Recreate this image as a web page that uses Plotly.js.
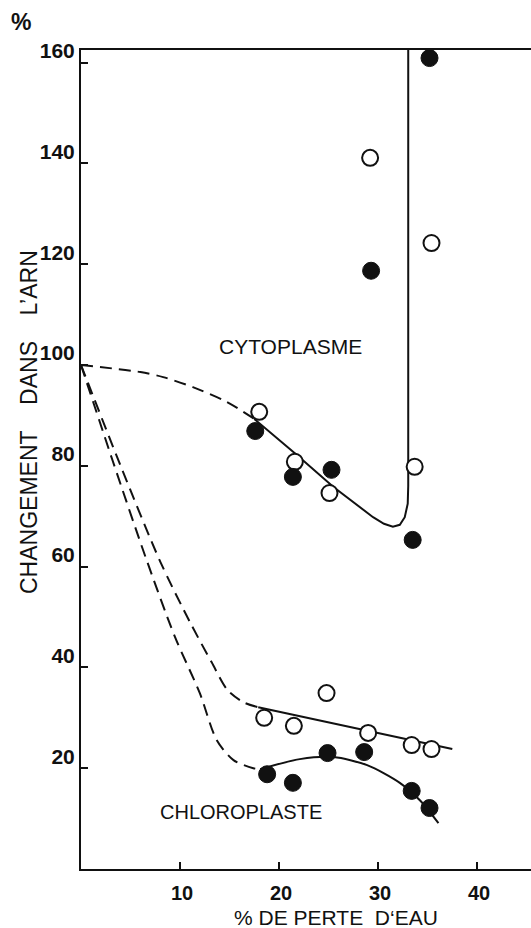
<!DOCTYPE html>
<html>
<head>
<meta charset="utf-8">
<script src="https://cdn.plot.ly/plotly-3.0.1.min.js"></script>
<style>html,body{margin:0;padding:0;background:#fff;}#chart{width:531px;height:928px;}</style>
</head>
<body>
<div id="chart"></div>
<script>
// Data points
const cytoOpenX = [18.0, 21.6, 25.1, 29.2, 33.7, 35.4];
const cytoOpenY = [90.7, 80.8, 74.6, 141.1, 79.8, 124.2];
const cytoFilledX = [17.6, 21.4, 25.3, 29.3, 33.5, 35.2];
const cytoFilledY = [86.9, 77.8, 79.2, 118.7, 65.3, 160.9];
const chloroOpenX = [18.5, 21.5, 24.8, 29.0, 33.4, 35.4];
const chloroOpenY = [30.0, 28.4, 34.9, 27.0, 24.6, 23.8];
const chloroFilledX = [18.8, 21.4, 24.9, 28.6, 33.4, 35.2];
const chloroFilledY = [18.8, 17.1, 23.0, 23.2, 15.5, 12.1];

// Hand-drawn curves
const cytoDashX = [0, 6.0, 8.3, 11.3, 14.7, 17.5];
const cytoDashY = [100, 98.6, 97.6, 95.6, 92.7, 89.3];
const cytoFitX = [17.5, 21.6, 25.5, 29.5, 30.6, 31.5, 32.2, 32.7, 33.0, 33.05, 33.05];
const cytoFitY = [89.3, 82.5, 75.8, 69.8, 68.5, 67.9, 68.3, 69.8, 72.5, 76, 163];
const chloroOpenDashX = [0, 4, 8, 11, 13.2, 14.8, 16.4, 17.9];
const chloroOpenDashY = [100, 80, 61, 49, 41, 35.5, 33.1, 32.1];
const chloroOpenFitX = [17.9, 37.5];
const chloroOpenFitY = [32.1, 23.8];
const chloroFilledDashX = [0, 3.2, 6.5, 9.5, 12.0, 13.7, 15.4, 17.4, 18.1];
const chloroFilledDashY = [100, 81, 62, 46, 34.9, 25.6, 21.6, 20.0, 19.8];
const chloroFilledFitX = [18.1, 22.1, 25.5, 28.9, 32.2, 34.3, 36.1];
const chloroFilledFitY = [19.8, 21.8, 22.2, 20.6, 17.1, 13.5, 9.1];

const xTicks = [10, 20, 30, 40];
const yTicks = [20, 40, 60, 80, 100, 120, 140, 160];

const ink = '#111';
const FONT = 'Liberation Sans, Arial, sans-serif';

function line(x, y, dash, shape) {
  return {x: x, y: y, type: 'scatter', mode: 'lines', hoverinfo: 'skip',
    line: {color: ink, width: 2, dash: dash || 'solid', shape: shape || 'linear', smoothing: 0.8},
    cliponaxis: false, showlegend: false};
}
function pts(x, y, filled) {
  return {x: x, y: y, type: 'scatter', mode: 'markers', cliponaxis: false, showlegend: false,
    marker: {size: filled ? 17 : 16, color: filled ? ink : '#fff', line: {color: ink, width: filled ? 1 : 2}, symbol: 'circle'}};
}

const traces = [
  line(cytoDashX, cytoDashY, '12px,7px', 'spline'),
  line(cytoFitX, cytoFitY, 'solid', 'linear'),
  line(chloroOpenDashX, chloroOpenDashY, '12px,7px', 'spline'),
  line(chloroOpenFitX, chloroOpenFitY, 'solid', 'linear'),
  line(chloroFilledDashX, chloroFilledDashY, '12px,7px', 'spline'),
  line(chloroFilledFitX, chloroFilledFitY, 'solid', 'spline'),
  pts(cytoOpenX, cytoOpenY, false),
  pts(cytoFilledX, cytoFilledY, true),
  pts(chloroOpenX, chloroOpenY, false),
  pts(chloroFilledX, chloroFilledY, true)
];

const nb = '\u00a0';
const W = 450, H = 819;
const layout = {
  width: 531, height: 928,
  margin: {l: 81, r: 0, t: 50, b: 59},
  paper_bgcolor: '#fff', plot_bgcolor: '#fff',
  font: {family: FONT, color: ink},
  showlegend: false,
  xaxis: {
    range: [0, 45.45], tickvals: xTicks, ticktext: xTicks.map(String),
    ticks: 'inside', ticklen: 7, tickwidth: 2, tickcolor: ink,
    showline: true, linewidth: 2, linecolor: ink, mirror: true,
    showgrid: false, zeroline: false,
    tickfont: {family: FONT, size: 20, weight: 'bold', color: ink},
    ticklabelstandoff: 5, ticklabelshift: 2
  },
  yaxis: {
    range: [0, 162.5], tickvals: yTicks, ticktext: yTicks.map(String),
    ticks: 'inside', ticklen: 7, tickwidth: 2, tickcolor: ink,
    showline: true, linewidth: 2, linecolor: ink,
    showgrid: false, zeroline: false,
    tickfont: {family: FONT, size: 21, weight: 'bold', color: ink},
    ticklabelshift: -12
  },
  annotations: [
    {text: '%', xref: 'paper', yref: 'paper', x: (21 - 81) / W, y: (869 - 22) / H,
      showarrow: false, xanchor: 'center', yanchor: 'middle', font: {family: FONT, size: 23, weight: 'bold', color: ink}},
    {text: 'CHANGEMENT' + nb + nb + nb + nb + 'DANS' + nb + nb + nb + nb + 'L\u2019ARN',
      xref: 'paper', yref: 'paper', x: (29 - 81) / W, y: (869 - 422) / H, textangle: -90,
      showarrow: false, xanchor: 'center', yanchor: 'middle', font: {family: FONT, size: 23, color: ink}},
    {text: '% DE PERTE' + nb + nb + 'D\u2018EAU',
      xref: 'paper', yref: 'paper', x: (336 - 81) / W, y: (869 - 917) / H,
      showarrow: false, xanchor: 'center', yanchor: 'middle', font: {family: FONT, size: 21, color: ink}},
    {text: 'CYTOPLASME', x: 21.2, y: 103.6, xref: 'x', yref: 'y', showarrow: false,
      xanchor: 'center', yanchor: 'middle', font: {family: FONT, size: 21, color: ink}},
    {text: 'CHLOROPLASTE', x: 16.2, y: 11.3, xref: 'x', yref: 'y', showarrow: false,
      xanchor: 'center', yanchor: 'middle', font: {family: FONT, size: 20, color: ink}}
  ]
};

Plotly.newPlot('chart', traces, layout, {displayModeBar: false, staticPlot: true});
</script>
</body>
</html>
